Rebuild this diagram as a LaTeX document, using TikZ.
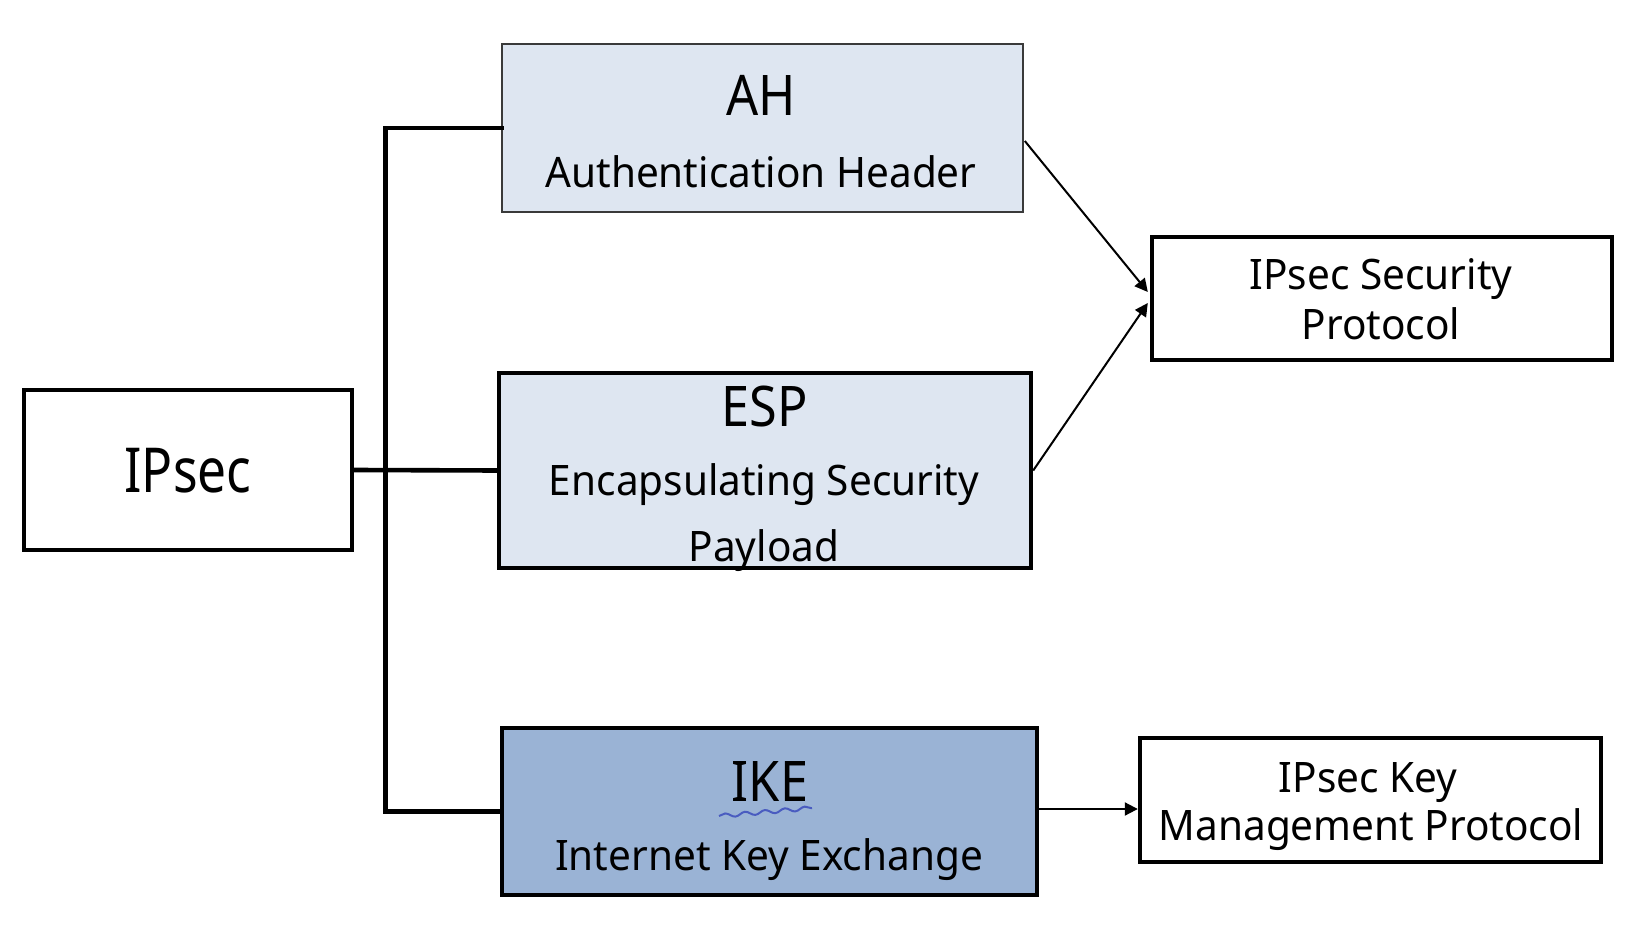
\documentclass[tikz,border=0pt]{standalone}
\usepackage{fontspec}
\setmainfont{Noto Sans}[FakeStretch=0.9]
\newfontfamily\smallfont{Noto Sans}[FakeStretch=0.965]
\newfontfamily\ipsecfont{Noto Sans}[FakeStretch=0.83]
\usetikzlibrary{arrows.meta,decorations.pathmorphing,calc}
\definecolor{lightfill}{HTML}{DEE6F1}
\definecolor{ikefill}{HTML}{9AB3D5}
\definecolor{squigcol}{HTML}{4A5CC0}
\definecolor{thinborder}{HTML}{3A3A3A}
\begin{document}
\begin{tikzpicture}[x=0.5pt,y=-0.5pt,
  box/.style={draw=black, line width=2.2pt, rectangle, inner sep=0pt},
  thinbox/.style={draw=thinborder, line width=0.8pt, rectangle, inner sep=0pt},
  bigtxt/.style={anchor=base, inner sep=0pt, font=\fontsize{28pt}{30pt}\selectfont},
  smalltxt/.style={anchor=base, inner sep=0pt, font=\smallfont\fontsize{21pt}{24pt}\selectfont},
  conn/.style={line width=2.3pt, line cap=rect},
  arr/.style={line width=1pt, -{Triangle[length=6.5pt,width=6.5pt]}},
  squig/.style={draw=squigcol, line width=1pt, decorate,
     decoration={snake, amplitude=1pt, segment length=10pt}}]
\useasboundingbox (0,0) rectangle (1632,930);

% boxes
\node[box, minimum width=164pt, minimum height=80pt] (ipsec) at (188,470) {};
\node[thinbox, fill=lightfill, minimum width=260.5pt, minimum height=84pt] (ah) at (762.5,128) {};
\node[box, fill=lightfill, minimum width=266pt, minimum height=97.5pt] (esp) at (765,470.5) {};
\node[box, fill=ikefill, minimum width=267.5pt, minimum height=83.5pt] (ike) at (769.5,811.5) {};
\node[box, minimum width=230pt, minimum height=61.5pt] (sp) at (1382,298.5) {};
\node[box, minimum width=230.5pt, minimum height=62pt] (kmp) at (1370.5,800) {};

% connectors
\draw[conn] (ah.west) -- ++(-116,0) coordinate (bustop) |- (ike.west);
\draw[conn] (ipsec.east) -- (esp.west);
\draw[arr] ($(ah.east)+(1,13)$) -- ($(sp.west)+(-2,-6.5)$);
\draw[arr] (esp.east) -- ($(sp.west)+(-2,4.5)$);
\draw[arr] ($(ike.east)+(0,-2.5)$) coordinate (ikeout) -- (ikeout -| kmp.west);

% texts
\node[anchor=base, inner sep=0pt, font=\ipsecfont\fontsize{31pt}{33pt}\selectfont] (tipsec) at (188,492) {IPsec};
\node[bigtxt] (tah) at (761,116) {AH};
\node[bigtxt] (tesp) at (765,426) {ESP};
\node[bigtxt] (tike) at (770,801) {IKE};
\node[smalltxt] (tahl) at (761,188) {Authentication Header};
\node[smalltxt] (tespa) at (764,495) {Encapsulating Security};
\node[smalltxt] (tespb) at (764,561) {Payload};
\node[smalltxt] (tikel) at (769,870) {Internet Key Exchange};
\node[smalltxt] (tspa) at (1381,290) {IPsec Security};
\node[smalltxt] (tspb) at (1381,340) {Protocol};
\node[smalltxt] (tkmpa) at (1368,792) {IPsec Key};
\node[smalltxt] (tkmpb) at (1371,840) {Management Protocol};

% spell-check squiggle under IKE
\draw[squig] (719,816) -- (812,808);
\end{tikzpicture}
\end{document}
